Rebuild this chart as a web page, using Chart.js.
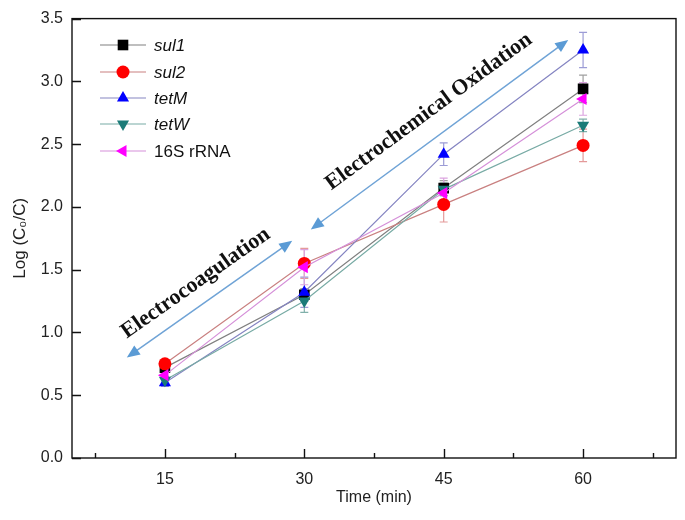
<!DOCTYPE html>
<html><head><meta charset="utf-8">
<script src="https://cdn.jsdelivr.net/npm/chart.js@4/dist/chart.umd.min.js"></script>
<style>html,body{margin:0;padding:0;background:#fff}</style>
</head><body>
<canvas id="c" width="685" height="520"></canvas>
<script>
// ---- data ----
const times = [15, 30, 45, 60];
const seriesNames = ['sul1', 'sul2', 'tetM', 'tetW', '16S rRNA'];
const sul1 = [0.72, 1.30, 2.15, 2.94];
const sul2 = [0.75, 1.55, 2.02, 2.49];
const tetM = [0.60, 1.32, 2.42, 3.25];
const tetW = [0.62, 1.25, 2.14, 2.65];
const rRNA16S = [0.66, 1.52, 2.11, 2.86];
const sul1Err = [0.03, 0.05, 0.06, 0.11];
const sul2Err = [0.03, 0.12, 0.14, 0.13];
const tetMErr = [0.03, 0.12, 0.09, 0.14];
const tetWErr = [0.03, 0.09, 0.05, 0.05];
const rRNA16SErr = [0.03, 0.14, 0.12, 0.13];
const yTickValues = [0, 0.5, 1.0, 1.5, 2.0, 2.5, 3.0, 3.5];
const xTickValues = [15, 30, 45, 60];
const xMinorTickValues = [7.5, 22.5, 37.5, 52.5, 67.5];
const annotationLabels = ['Electrocoagulation', 'Electrochemical Oxidation'];
// arrow ends in data units [x1, y1, x2, y2]
const arrow1 = [10.9, 0.80, 28.7, 1.73];
const arrow2 = [30.7, 1.82, 58.4, 3.33];

const allValues = [sul1, sul2, tetM, tetW, rRNA16S];
const allErrors = [sul1Err, sul2Err, tetMErr, tetWErr, rRNA16SErr];
const markerColors = ['#000000', '#ff0000', '#0000ff', '#1b7b78', '#ff00ff'];
const lineColors = ['#808080', '#c98080', '#8585c2', '#78aba5', '#d590d9'];
const errColors = ['#a0a0a0', '#e49a9a', '#9c9cd6', '#80b0aa', '#dca4e0'];
const pointStyles = ['rect', 'circle', 'triangle', 'triangle', 'triangle'];
const rotations = [0, 0, 0, 180, -90];
const radii = [7.5, 6.5, 7, 7, 7];
const italicNames = [true, true, true, true, false];

const datasets = seriesNames.map((n, i) => ({
  label: n,
  data: times.map((t, j) => ({x: t, y: allValues[i][j]})),
  borderColor: lineColors[i],
  borderWidth: 1.2,
  backgroundColor: markerColors[i],
  pointBackgroundColor: markerColors[i],
  pointBorderColor: markerColors[i],
  pointBorderWidth: 0,
  pointStyle: pointStyles[i],
  rotation: rotations[i],
  pointRadius: radii[i],
  tension: 0,
  errors: allErrors[i],
  errColor: errColors[i],
  order: 4 - i
}));

const overlay = {
  id: 'overlay',
  beforeDatasetsDraw(chart) {
    const ctx = chart.ctx, xs = chart.scales.x, ys = chart.scales.y;
    ctx.save();
    chart.data.datasets.forEach(ds => {
      ctx.strokeStyle = ds.errColor;
      ctx.lineWidth = 1.2;
      ds.data.forEach((p, j) => {
        const e = ds.errors[j];
        const px = xs.getPixelForValue(p.x);
        const y1 = ys.getPixelForValue(p.y - e), y2 = ys.getPixelForValue(p.y + e);
        ctx.beginPath();
        ctx.moveTo(px, y1); ctx.lineTo(px, y2);
        ctx.moveTo(px - 4, y1); ctx.lineTo(px + 4, y1);
        ctx.moveTo(px - 4, y2); ctx.lineTo(px + 4, y2);
        ctx.stroke();
      });
    });
    ctx.restore();
  },
  afterDraw(chart) {
    const ctx = chart.ctx, xs = chart.scales.x, ys = chart.scales.y, a = chart.chartArea;
    ctx.save();
    // frame
    ctx.strokeStyle = '#111';
    ctx.lineWidth = 1.4;
    ctx.strokeRect(a.left, a.top, a.right - a.left, a.bottom - a.top);
    // inward ticks
    ctx.beginPath();
    yTickValues.forEach(v => {
      const py = Math.round(ys.getPixelForValue(v)) + 0.5;
      ctx.moveTo(a.left, py); ctx.lineTo(a.left + 9, py);
    });
    xTickValues.forEach(v => {
      const px = Math.round(xs.getPixelForValue(v)) + 0.5;
      ctx.moveTo(px, a.bottom); ctx.lineTo(px, a.bottom - 9);
    });
    xMinorTickValues.forEach(v => {
      const px = Math.round(xs.getPixelForValue(v)) + 0.5;
      ctx.moveTo(px, a.bottom); ctx.lineTo(px, a.bottom - 5);
    });
    ctx.stroke();

    // annotations
    const drawArrow = (arr, label, along, off) => {
      const x1 = xs.getPixelForValue(arr[0]), y1 = ys.getPixelForValue(arr[1]);
      const x2 = xs.getPixelForValue(arr[2]), y2 = ys.getPixelForValue(arr[3]);
      const ang = Math.atan2(y2 - y1, x2 - x1);
      const L = Math.hypot(x2 - x1, y2 - y1);
      ctx.save();
      ctx.translate(x1, y1);
      ctx.rotate(ang);
      ctx.strokeStyle = '#6fa3d6';
      ctx.fillStyle = '#5b9bd5';
      ctx.lineWidth = 1.5;
      ctx.beginPath(); ctx.moveTo(8, 0); ctx.lineTo(L - 8, 0); ctx.stroke();
      ctx.beginPath(); ctx.moveTo(0, 0); ctx.lineTo(13, -5.5); ctx.lineTo(13, 5.5); ctx.closePath(); ctx.fill();
      ctx.beginPath(); ctx.moveTo(L, 0); ctx.lineTo(L - 13, -5.5); ctx.lineTo(L - 13, 5.5); ctx.closePath(); ctx.fill();
      ctx.fillStyle = '#111';
      ctx.font = 'bold 22px "Liberation Serif", "DejaVu Serif", serif';
      ctx.textAlign = 'center';
      ctx.textBaseline = 'middle';
      ctx.fillText(label, L / 2 + along, -off);
      ctx.restore();
    };
    drawArrow(arrow1, annotationLabels[0], -2, 21);
    drawArrow(arrow2, annotationLabels[1], 5, 25);

    // legend
    const lx0 = 100, lx1 = 146, mx = 123, tx = 154;
    const rowY = [45, 72, 98, 124, 151];
    chart.data.datasets.forEach((ds, i) => {
      const y = rowY[i];
      ctx.strokeStyle = ds.borderColor;
      ctx.lineWidth = 1.2;
      ctx.beginPath(); ctx.moveTo(lx0, y); ctx.lineTo(lx1, y); ctx.stroke();
      ctx.fillStyle = ds.pointBackgroundColor;
      ctx.strokeStyle = ds.pointBorderColor;
      Chart.helpers.drawPoint(ctx, {pointStyle: ds.pointStyle, radius: ds.pointRadius, rotation: ds.rotation, borderWidth: 0}, mx, y);
      ctx.fillStyle = '#111';
      ctx.font = (italicNames[i] ? 'italic ' : '') + '17px "Liberation Sans", Arial, sans-serif';
      ctx.textAlign = 'left';
      ctx.textBaseline = 'middle';
      ctx.fillText(ds.label, tx, y + 1);
    });
    ctx.restore();
  }
};

new Chart(document.getElementById('c'), {
  type: 'line',
  data: {datasets},
  options: {
    responsive: false,
    animation: false,
    events: [],
    layout: {padding: {top: 10, right: 9, left: 0, bottom: 0}},
    plugins: {legend: {display: false}, tooltip: {enabled: false}},
    scales: {
      x: {
        type: 'linear', min: 5, max: 70,
        afterBuildTicks: s => { s.ticks = xTickValues.map(v => ({value: v})); },
        afterFit: s => { s.height = 62; },
        grid: {display: false, drawTicks: false},
        border: {display: false},
        ticks: {padding: 12, color: '#222', font: {size: 16, family: '"Liberation Sans", Arial, sans-serif'}, maxRotation: 0,
          callback: v => String(v)},
        title: {display: true, text: 'Time (min)', color: '#222', padding: {top: 0, bottom: 13},
          font: {size: 16, family: '"Liberation Sans", Arial, sans-serif'}}
      },
      y: {
        type: 'linear', min: 0, max: 3.5,
        afterBuildTicks: s => { s.ticks = yTickValues.map(v => ({value: v})); },
        afterFit: s => { s.width = 72; },
        grid: {display: false, drawTicks: false},
        border: {display: false},
        ticks: {padding: 9, color: '#222', font: {size: 16, family: '"Liberation Sans", Arial, sans-serif'},
          callback: v => Number(v).toFixed(1)},
        title: {display: true, text: 'Log (C\u2080/C)', color: '#222', padding: {top: 10, bottom: 0},
          font: {size: 17, family: '"Liberation Sans", Arial, sans-serif'}}
      }
    }
  },
  plugins: [overlay]
});
</script>
</body></html>
